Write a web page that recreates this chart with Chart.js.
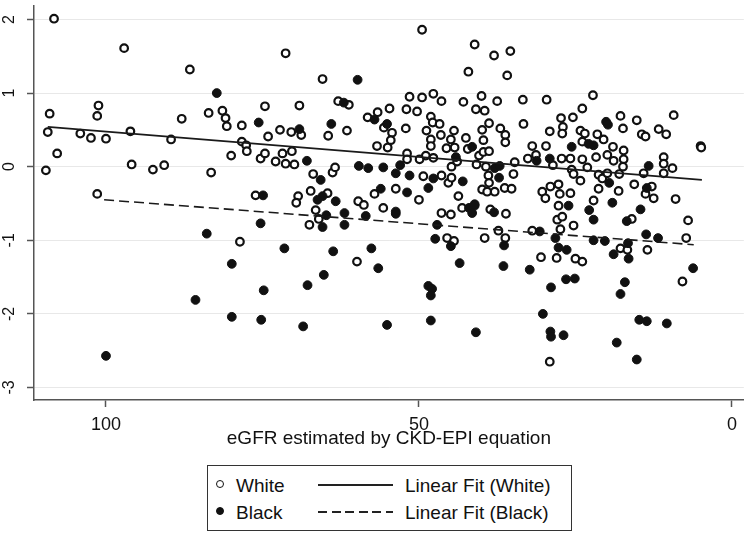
<!DOCTYPE html>
<html lang="en">
<head>
  <meta charset="UTF-8" />
  <title>eGFR scatter</title>
  <script src="https://cdn.jsdelivr.net/npm/chart.js"></script>
  <style>
    body {
      margin: 0;
      background: #fff;
      font-family: "Liberation Sans", Arial, sans-serif;
    }
    .page {
      position: relative;
      width: 750px;
      height: 535px;
    }
    .chart-wrapper {
      position: absolute;
      left: 0;
      top: 0;
      width: 750px;
      height: 458px;
    }
    .legend {
      position: absolute;
      left: 207px;
      top: 465px;
      width: 363px;
      height: 64px;
      border: 1.5px solid #333;
      font-size: 19px;
      color: #111;
    }
    .legend span { position: absolute; white-space: nowrap; line-height: 1; }
    .dot {
      width: 6px; height: 6px; border-radius: 50%;
      border: 1.5px solid #111; box-sizing: content-box;
    }
    .ln { height: 2px; width: 75px; background: #222; }
    .ln.dash { background: repeating-linear-gradient(90deg, #222 0 9px, transparent 9px 13.5px); }
  </style>
</head>
<body>
<div class="page">
  <div class="chart-wrapper"><canvas id="scatter"></canvas></div>
  <div class="legend">
    <span class="dot" style="left:8px; top:14px; background:#fff;"></span>
    <span style="left:28px; top:10px;">White</span>
    <span class="ln" style="left:110px; top:18px;"></span>
    <span style="left:197px; top:10px;">Linear Fit (White)</span>
    <span class="dot" style="left:8px; top:41px; background:#111;"></span>
    <span style="left:28px; top:37px;">Black</span>
    <span class="ln dash" style="left:110px; top:45px;"></span>
    <span style="left:197px; top:37px;">Linear Fit (Black)</span>
  </div>
</div>

<script>
  // open circles: White
  const whiteX = [
    108.3, 97.1, 86.6, 109.0, 109.3, 107.8, 109.6, 104.1, 102.4, 101.2, 101.4, 100.0, 96.1, 95.9, 92.5, 90.7, 89.6, 87.9, 83.6, 83.2, 101.4,
    71.3, 65.4, 81.4, 80.9, 80.7, 78.3, 74.6, 69.1, 74.1, 72.2, 70.4, 68.8, 78.3, 77.6, 77.5, 80.0, 75.3, 74.6, 72.9, 71.8, 71.3, 70.3, 69.9,
    66.9, 64.5, 63.8, 63.4, 62.9, 61.2, 61.5, 58.2, 56.6, 54.7, 54.3, 54.5, 55.0, 56.7, 55.6, 76.1, 69.3, 69.6, 67.3, 64.6, 59.7, 57.1, 53.7,
    49.5, 41.1, 38.0, 35.4, 42.1, 35.9, 51.5, 49.5, 47.7, 46.4, 42.9, 40.0, 37.5, 33.4, 29.6, 52.0, 50.3, 48.1, 40.9, 39.5, 33.3, 27.3, 25.4,
    27.0, 27.1, 29.1, 52.1, 48.8, 47.8, 46.7, 46.5, 44.4, 48.1, 48.1, 44.9, 42.5, 39.9, 38.8, 37.0, 36.2, 36.2, 39.7, 45.6, 44.3, 42.2, 40.4,
    39.7, 38.8, 31.9, 29.7, 51.9, 51.9, 49.9, 48.9, 47.7, 44.8, 43.9, 40.8, 39.3, 34.7, 32.6, 31.3, 28.6, 27.2, 25.8, 25.6, 25.3, 49.3, 46.4,
    45.3, 44.8, 38.9, 38.8, 34.9, 36.3, 35.2, 39.9, 39.1, 37.9, 50.0, 43.7, 30.3, 29.0, 27.7, 27.5, 25.8, 29.8,
    22.2, 23.9, 17.8, 15.2, 9.3, 17.4, 11.7, 10.5, 14.4, 13.8, 24.2, 23.5, 21.5, 23.9, 20.5, 19.0, 17.3, 5.0, 4.9, 23.9, 21.7, 19.9, 18.9,
    17.3, 17.4, 10.9, 10.9, 9.5, 23.1, 24.2, 21.3, 20.7, 19.9, 18.0, 14.1, 10.9, 15.6, 18.1, 21.3, 22.1, 12.8, 12.5, 13.8, 9.0,
    78.6, 59.9, 67.5, 66.5, 66.0, 58.8, 55.7,
    46.4, 44.9, 45.5, 44.4, 43.1, 38.6, 36.1, 39.5, 37.3, 36.2, 31.9, 30.5, 28.0, 27.9, 27.1, 27.4, 27.7, 25.3, 29.1,
    16.0, 7.0, 7.3, 17.8, 16.7, 13.5, 25.0, 23.9, 7.9
  ];
  const whiteY = [
    2.01, 1.61, 1.32, 0.72, 0.47, 0.18, -0.05, 0.45, 0.39, 0.83, 0.69, 0.38, 0.48, 0.03, -0.04, 0.02, 0.37, 0.65, 0.73, -0.08, -0.37,
    1.54, 1.19, 0.76, 0.66, 0.55, 0.56, 0.82, 0.83, 0.41, 0.50, 0.47, 0.43, 0.34, 0.29, 0.21, 0.15, 0.11, 0.18, 0.07, 0.18, 0.04, 0.21, 0.03,
    -0.10, 0.42, -0.08, -0.01, 0.89, 0.84, 0.49, 0.67, 0.74, 0.79, 0.46, 0.36, 0.26, 0.28, 0.53, -0.39, -0.40, -0.49, -0.33, -0.36, -0.47, -0.37, -0.30,
    1.86, 1.66, 1.51, 1.57, 1.29, 1.24, 0.95, 0.94, 0.99, 0.89, 0.88, 0.96, 0.89, 0.91, 0.91, 0.78, 0.75, 0.68, 0.78, 0.76, 0.58, 0.66, 0.67,
    0.54, 0.45, 0.48, 0.52, 0.49, 0.60, 0.58, 0.43, 0.49, 0.37, 0.28, 0.37, 0.39, 0.50, 0.59, 0.52, 0.43, 0.33, 0.36, 0.25, 0.26, 0.24, 0.15,
    0.20, 0.21, 0.28, 0.28, 0.18, 0.10, 0.10, 0.15, 0.12, 0.00, 0.07, 0.03, 0.00, 0.06, 0.11, 0.16, 0.02, 0.11, 0.11, -0.04, -0.10, -0.13, -0.12,
    -0.22, -0.15, -0.12, -0.22, -0.10, -0.29, -0.30, -0.31, -0.34, -0.34, -0.45, -0.40, -0.34, -0.27, -0.24, -0.37, -0.36, -0.43,
    0.97, 0.79, 0.69, 0.63, 0.70, 0.52, 0.51, 0.44, 0.44, 0.41, 0.49, 0.45, 0.44, 0.34, 0.37, 0.27, 0.22, 0.28, 0.26, 0.10, 0.13, 0.16, 0.08,
    0.10, 0.00, 0.13, 0.04, -0.02, -0.01, -0.19, -0.11, -0.16, -0.09, -0.10, -0.09, -0.09, -0.24, -0.33, -0.30, -0.46, -0.27, -0.43, -0.37, -0.44,
    -1.02, -1.29, -0.79, -0.59, -0.71, -0.52, -0.56,
    -0.63, -0.65, -0.97, -1.01, -0.56, -0.58, -0.64, -0.97, -0.87, -0.97, -0.87, -1.23, -1.24, -0.72, -0.68, -0.85, -0.53, -0.80, -2.65,
    -0.71, -0.73, -0.97, -1.11, -1.13, -1.13, -1.25, -1.29, -1.56
  ];

  // filled circles: Black
  const blackX = [
    82.3, 59.8, 75.6, 69.1, 64.0, 62.0, 67.9, 59.6, 58.1, 55.7, 53.7, 57.1, 55.1, 65.7, 74.9, 65.4, 66.2, 63.3, 56.1,
    41.5, 44.1, 25.6, 31.2, 29.1, 53.0, 51.5, 47.7, 43.0, 37.9, 37.1, 37.2, 48.5, 51.9, 41.1,
    20.1, 19.8, 22.9, 22.1, 13.3, 19.6, 13.6, 19.1,
    83.9, 85.7, 100.0, 75.3, 79.9, 71.5, 74.8, 79.9, 75.2, 68.5, 67.8, 65.2, 63.7, 57.6, 56.5, 55.1, 65.4, 64.8, 61.9, 61.9, 58.5, 53.7, 53.7,
    47.1, 47.4, 44.9, 43.5, 48.5, 47.9, 48.1, 48.1, 40.9, 36.4, 36.5, 32.3, 30.7, 28.2, 27.7, 26.4, 28.9, 30.2, 29.0, 28.9, 26.9, 26.5, 25.1,
    42.0, 41.1, 41.5, 38.0, 26.1,
    22.8, 22.1, 14.6, 16.8, 22.1, 20.3, 16.6, 18.9, 16.5, 13.7, 11.8, 17.1, 17.8, 6.2, 14.8, 13.6, 10.4, 18.4, 15.2
  ];
  const blackY = [
    1.00, 1.18, 0.60, 0.51, 0.58, 0.87, 0.08, 0.01, -0.02, -0.01, -0.09, 0.64, 0.58, -0.18, -0.39, -0.40, -0.45, -0.47, -0.30,
    0.27, 0.13, 0.27, 0.08, 0.11, 0.02, -0.12, -0.16, -0.20, -0.02, 0.01, -0.15, -0.29, -0.35, -0.51,
    0.61, 0.57, 0.31, 0.29, 0.01, -0.22, -0.29, -0.49,
    -0.91, -1.81, -2.57, -0.77, -1.32, -1.11, -1.68, -2.04, -2.08, -2.17, -1.61, -1.47, -1.15, -1.11, -1.38, -2.15, -0.82, -0.66, -0.63, -0.79, -0.67, -0.61, -0.64,
    -0.79, -0.98, -1.08, -1.31, -1.62, -1.66, -1.75, -2.09, -2.25, -1.07, -1.35, -1.40, -0.88, -0.97, -1.10, -1.13, -1.64, -2.00, -2.24, -2.31, -2.29, -1.53, -1.52,
    -0.56, -0.53, -0.63, -0.62, -0.53,
    -0.59, -0.72, -0.58, -0.74, -1.00, -1.01, -1.04, -1.19, -1.25, -0.92, -0.97, -1.57, -1.73, -1.38, -2.08, -2.10, -2.13, -2.39, -2.62
  ];

  // fitted lines (end points)
  const fitWhiteX = [109.3, 4.8];
  const fitWhiteY = [0.54, -0.18];
  const fitBlackX = [100.3, 6.1];
  const fitBlackY = [-0.45, -1.06];

  const xTicks = [100, 50, 0];
  const yTicks = [-3, -2, -1, 0, 1, 2];

  const toPoints = (xs, ys) => xs.map((x, i) => ({ x: x, y: ys[i] }));

  const axisColor = '#555';
  const font = 'Liberation Sans, Arial, sans-serif';

  new Chart(document.getElementById('scatter'), {
    type: 'scatter',
    data: {
      datasets: [{
        label: 'Linear Fit (White)',
        data: toPoints(fitWhiteX, fitWhiteY),
        showLine: true,
        borderColor: '#1a1a1a',
        borderWidth: 1.6,
        pointRadius: 0,
        order: 0
      }, {
        label: 'Linear Fit (Black)',
        data: toPoints(fitBlackX, fitBlackY),
        showLine: true,
        borderColor: '#1a1a1a',
        borderWidth: 1.6,
        borderDash: [10, 5],
        pointRadius: 0,
        order: 0
      }, {
        label: 'Black',
        data: toPoints(blackX, blackY),
        backgroundColor: '#111',
        borderColor: '#111',
        borderWidth: 1,
        pointRadius: 4.4,
        order: 1
      }, {
        label: 'White',
        data: toPoints(whiteX, whiteY),
        backgroundColor: '#fff',
        borderColor: '#111',
        borderWidth: 2.2,
        pointRadius: 3.8,
        order: 2
      }]
    },
    options: {
      responsive: true,
      maintainAspectRatio: false,
      animation: false,
      layout: { padding: { top: 3, right: 5, left: 0, bottom: 0 } },
      plugins: {
        legend: { display: false },
        tooltip: { enabled: false }
      },
      scales: {
        x: {
          type: 'linear',
          reverse: true,
          min: -1.9,
          max: 111.5,
          afterBuildTicks: (s) => { s.ticks = xTicks.map(v => ({ value: v })); },
          afterFit: (s) => { s.height = 58; s.paddingLeft = 0; s.paddingRight = 0; },
          border: { color: axisColor, width: 1.5 },
          grid: { drawOnChartArea: false, drawTicks: true, tickLength: 7, tickColor: axisColor, tickWidth: 1.5 },
          ticks: { color: '#111', font: { family: font, size: 18 }, padding: 7, maxRotation: 0 },
          title: {
            display: true,
            text: 'eGFR estimated by CKD-EPI equation',
            color: '#111',
            font: { family: font, size: 19 },
            padding: { top: 0, bottom: 8 }
          }
        },
        y: {
          min: -3.17,
          max: 2.18,
          afterBuildTicks: (s) => { s.ticks = yTicks.map(v => ({ value: v })); },
          afterFit: (s) => { s.width = 34; s.paddingTop = 0; s.paddingBottom = 0; },
          border: { color: axisColor, width: 1.5 },
          grid: { color: '#e8e8e8', lineWidth: 1, drawTicks: true, tickLength: 7, tickColor: axisColor, tickWidth: 1.5 },
          ticks: {
            color: '#111',
            font: { family: font, size: 16 },
            minRotation: 90,
            maxRotation: 90,
            crossAlign: 'center',
            padding: 10
          }
        }
      }
    }
  });
</script>
</body>
</html>
